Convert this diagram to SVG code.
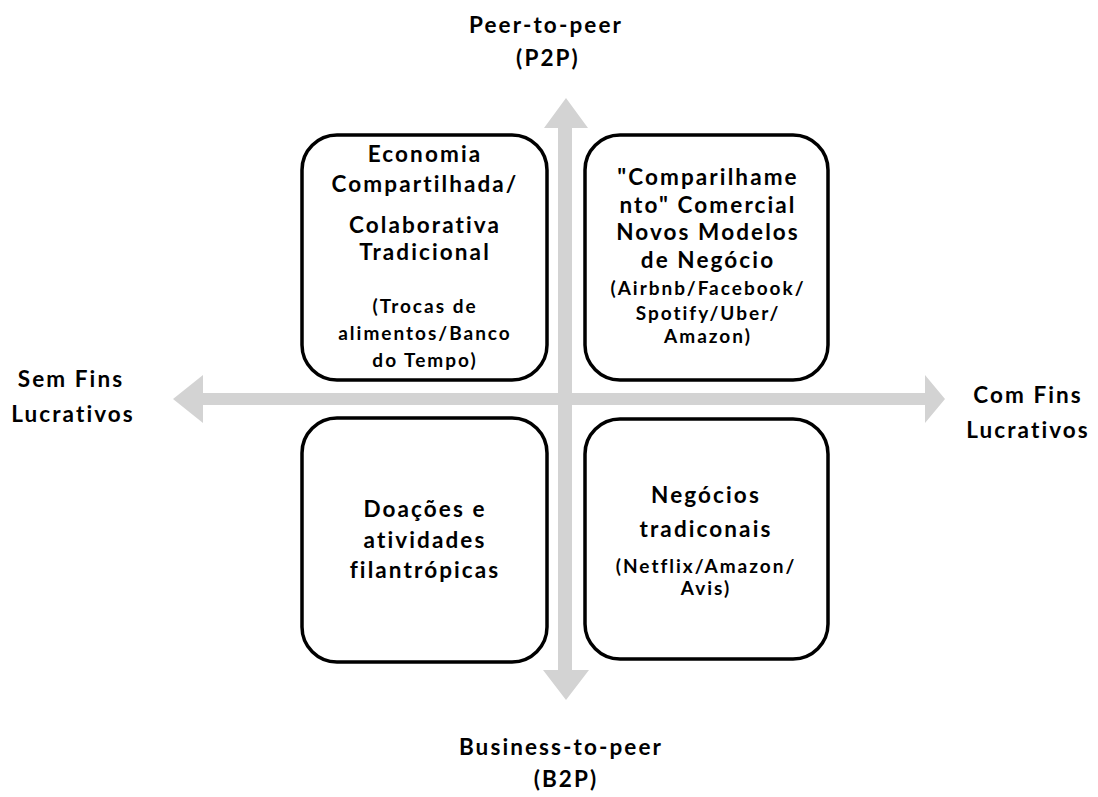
<svg xmlns="http://www.w3.org/2000/svg" width="1098" height="797" viewBox="0 0 1098 797">
<style>
.box{fill:#fff;stroke:#000;stroke-width:3.5}
.ax{fill:#d3d3d3}
text{font-family:Lato,"Liberation Sans",sans-serif;font-weight:bold;fill:#000;text-anchor:middle}
.l{font-size:22.5px;letter-spacing:2.1px}
.s{font-size:19px;letter-spacing:2px}
</style>
<rect width="1098" height="797" fill="#fff"/>
<g id="connectors">
<polygon class="ax" points="566,98 588,128 572,128 572,393 925,393 925,375 945,399 925,423 925,405 572,405 572,670 589,670 566,700 543,670 558,670 558,405 203,405 203,423 173,399 203,375 203,393 558,393 558,128 544,128"/>
</g>
<g id="label-p2p"><text class="l" x="546" y="33">Peer-to-peer</text><text class="l" x="548" y="66">(P2P)</text></g>
<g id="label-b2p"><text class="l" x="561" y="755">Business-to-peer</text><text class="l" x="566" y="787">(B2P)</text></g>
<g id="label-sem"><text class="l" x="71" y="387">Sem Fins</text><text class="l" x="73" y="422">Lucrativos</text></g>
<g id="label-com"><text class="l" x="1028" y="403">Com Fins</text><text class="l" x="1028" y="438">Lucrativos</text></g>
<g id="node-tl">
<rect class="box" x="302" y="135" width="245" height="245" rx="35"/>
<text class="l" x="425" y="162">Economia</text>
<text class="l" x="425" y="192">Compartilhada/</text>
<text class="l" x="425" y="233">Colaborativa</text>
<text class="l" x="425" y="260">Tradicional</text>
<text class="s" x="425" y="313">(Trocas de</text>
<text class="s" x="425" y="340">alimentos/Banco</text>
<text class="s" x="425" y="367">do Tempo)</text>
</g>
<g id="node-tr">
<rect class="box" x="585" y="135" width="243" height="245" rx="35"/>
<text class="l" x="708" y="185">"Comparilhame</text>
<text class="l" x="708" y="213">nto" Comercial</text>
<text class="l" x="708" y="240">Novos Modelos</text>
<text class="l" x="708" y="268">de Negócio</text>
<text class="s" x="708" y="295">(Airbnb/Facebook/</text>
<text class="s" x="708" y="320">Spotify/Uber/</text>
<text class="s" x="708" y="343">Amazon)</text>
</g>
<g id="node-bl">
<rect class="box" x="302" y="418" width="245" height="244" rx="35"/>
<text class="l" x="425" y="517">Doações e</text>
<text class="l" x="425" y="548">atividades</text>
<text class="l" x="425" y="578">filantrópicas</text>
</g>
<g id="node-br">
<rect class="box" x="585" y="419" width="243" height="240" rx="35"/>
<text class="l" x="706" y="503">Negócios</text>
<text class="l" x="706" y="537">tradiconais</text>
<text class="s" x="706" y="573">(Netflix/Amazon/</text>
<text class="s" x="706" y="595">Avis)</text>
</g>
</svg>
